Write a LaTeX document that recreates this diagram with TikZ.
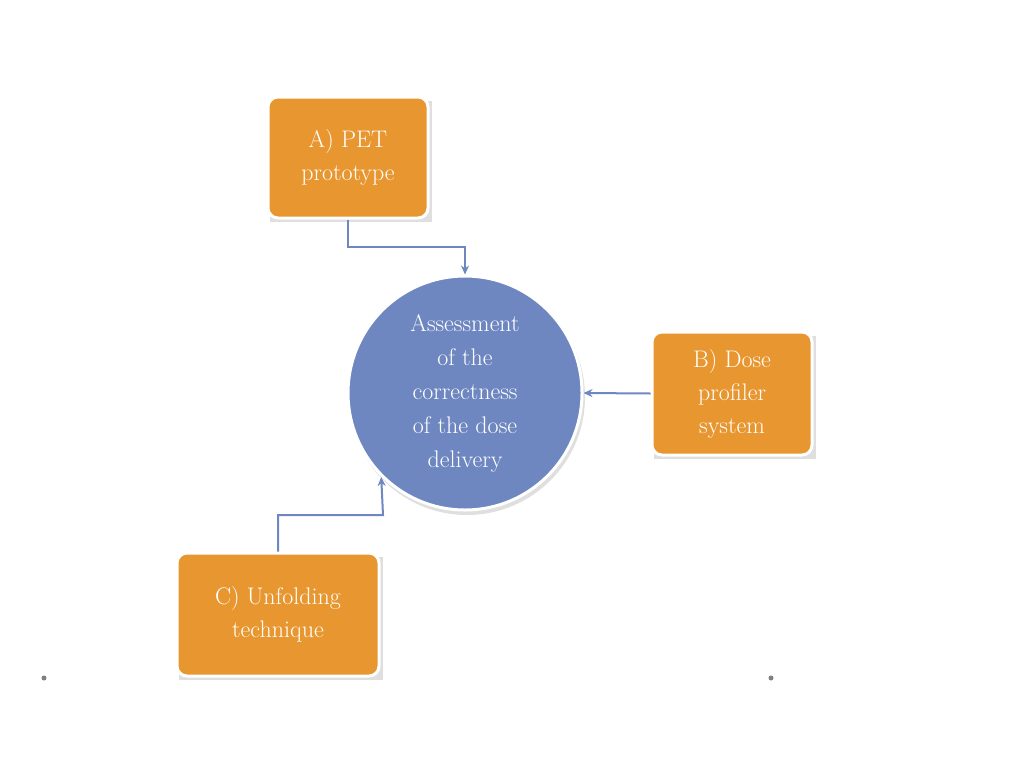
\documentclass[tikz,border=0pt]{standalone}
\usetikzlibrary{arrows.meta}
\definecolor{orng}{HTML}{E8962F}
\definecolor{blu}{HTML}{6F87C0}
\definecolor{arr}{HTML}{6F87C0}
\begin{document}
\begin{tikzpicture}[x=1pt,y=-1pt,
  box/.style={draw=white,line width=3pt,fill=orng,rounded corners=10pt,text=white,align=center,font=\fontsize{24}{33}\selectfont,inner sep=0pt},
  con/.style={draw=arr,line width=2pt,-{Stealth[length=9pt,width=8pt]}}]
\useasboundingbox (0,0) rectangle (1024,768);
\fill[gray!25] (270,101) rectangle (432,222);
\fill[gray!25] (654,336) rectangle (816,459);
\fill[gray!25] (179,557) rectangle (383,680);
\fill[gray!25] (467,397) circle (118);
\node[box,minimum width=160pt,minimum height=121pt] (a) at (348,157.5) {A) PET\\prototype};
\node[box,minimum width=160pt,minimum height=123pt] (b) at (732,393.5) {B) Dose\\profiler\\system};
\node[box,minimum width=202pt,minimum height=123pt] (c) at (278,614.5) {C) Unfolding\\technique};
\node[circle,draw=white,line width=3pt,fill=blu,minimum size=234pt,text=white,align=center,font=\fontsize{24}{34}\selectfont] (m) at (465,393) {Assessment\\of the\\correctness\\of the dose\\delivery};
\draw[con] (a.south) |- (465,247) -- (m.north);
\draw[con] (b.west) -- (m.east);
\draw[con] (c.north) |- (383,515) -- (m.south west |- 0,477) ;
\fill[gray] (44,678) circle (2.5);
\fill[gray] (771,678) circle (2.5);
\end{tikzpicture}
\end{document}
